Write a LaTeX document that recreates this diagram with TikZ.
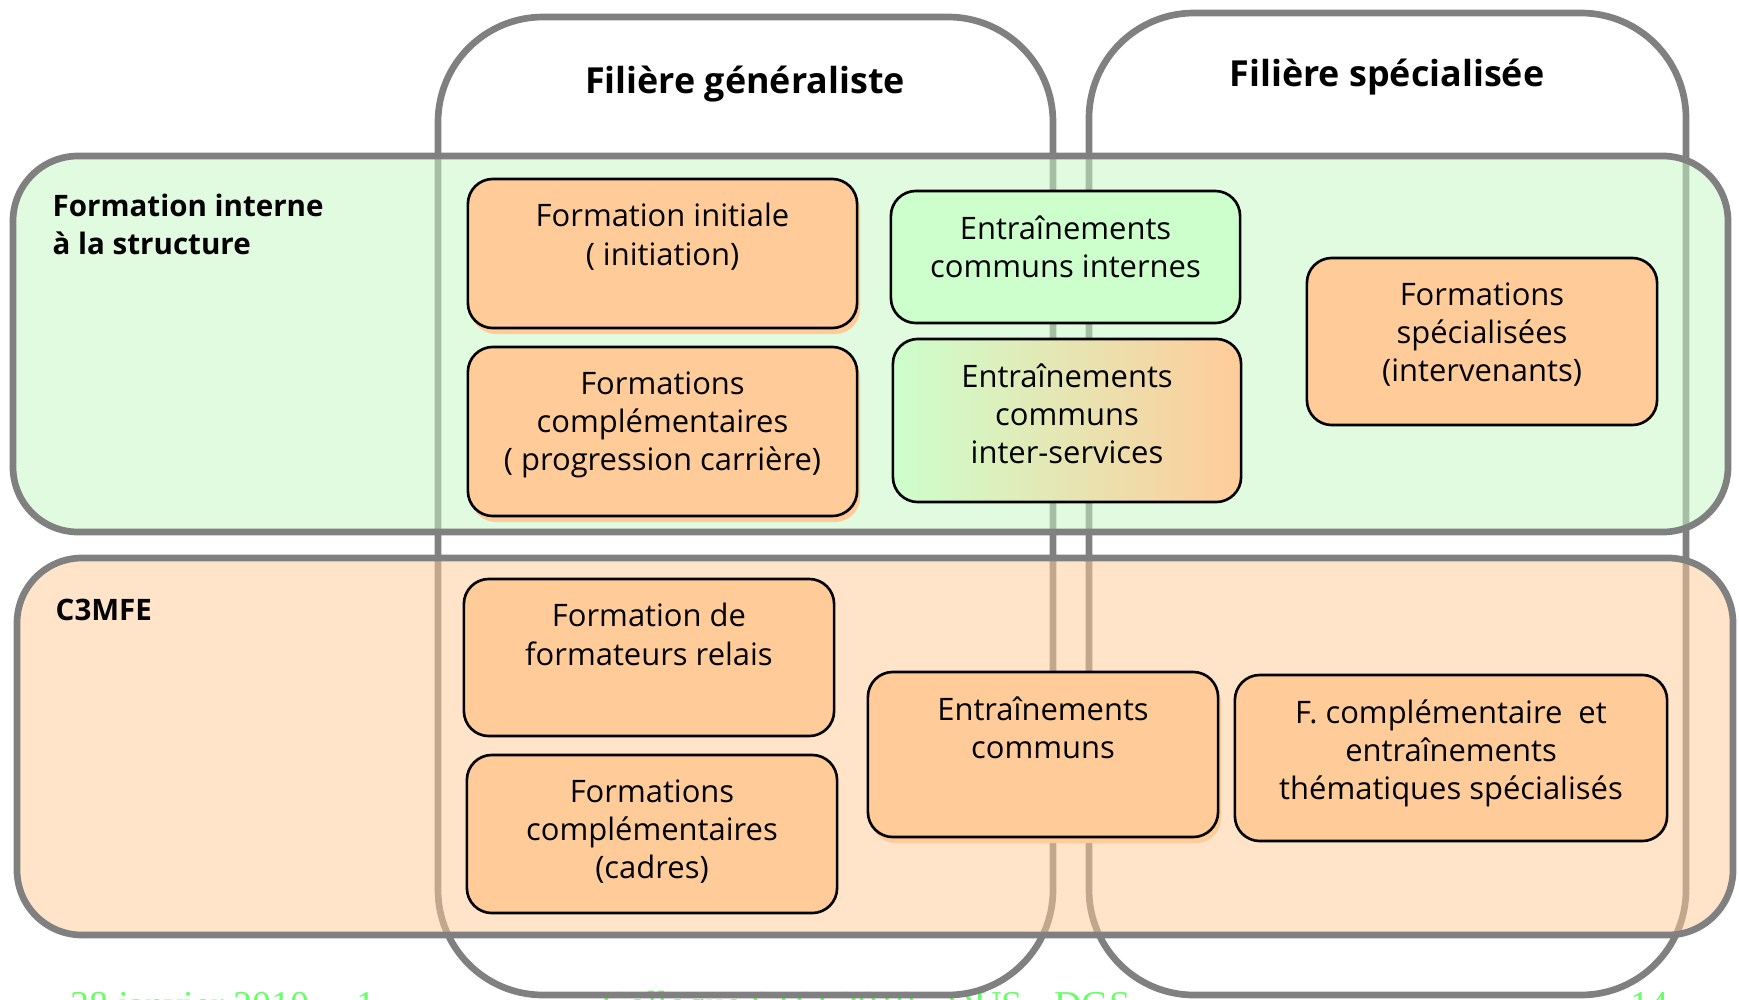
\documentclass[tikz,border=0pt]{standalone}
\usepackage{fontspec}
\setmainfont{Open Sans}
\newfontfamily\footfont{Liberation Serif}
\usetikzlibrary{positioning}
\usetikzlibrary{shadows}
\definecolor{lgray}{RGB}{128,128,128}
\definecolor{rowgreen}{RGB}{199,249,199}
\definecolor{rowpeach}{RGB}{255,204,153}
\definecolor{boxorange}{RGB}{255,204,153}
\definecolor{boxgreen}{RGB}{204,255,204}
\definecolor{footgreen}{RGB}{102,255,102}

\begin{document}
\begin{tikzpicture}[x=0.01cm,y=-0.01cm,
	filiere/.style={draw=lgray,line width=1.9pt,rounded corners=1.05cm},
	rowband/.style={draw=lgray,line width=1.9pt,rounded corners=0.65cm,fill opacity=0.52},
	obox/.style={draw=black,line width=0.75pt,rounded corners=0.25cm,fill=boxorange,inner sep=0pt},
	gbox/.style={obox,fill=boxgreen},
	shbox/.style={obox,drop shadow={fill=boxorange,opacity=1,shadow xshift=0.03cm,shadow yshift=-0.06cm}},
	btxt/.style={align=center,inner sep=0pt,font=\fontsize{8.8}{10.9}\selectfont},
	rtxt/.style={align=left,inner sep=0pt,anchor=north west,font=\fontsize{8.4}{10.9}\selectfont\bfseries},
	ttxt/.style={inner sep=0pt,anchor=base,font=\fontsize{10.2}{13}\selectfont\bfseries},
	foot/.style={inner sep=0pt,anchor=base west,text=footgreen,font=\footfont\fontsize{10.8}{13}\selectfont}]
	\clip(0,0)rectangle(1739,1000);
	\fill[white](0,0)rectangle(1739,1000);
	% bas de page
	\node[foot](fdate)at(70,1017){28 janvier 2010};
	\node[foot](fnum)at(356,1017){1};
	\node[foot](fcoll)at(602,1017){Colloque STSI 2010 - DUS - DGS};
	\node[foot](fpage)at(1630,1017){14};
	% filieres
	\draw[filiere](438,995)--(438,17)--(1053,17)--(1053,995)--cycle;
	\draw[filiere](1089,995)--(1089,13)--(1686,13)--(1686,995)--cycle;
	\node[ttxt](tgen)at(745,93){Filière généraliste};
	\node[ttxt](tspe)at(1387,87){Filière spécialisée};
	% bandes
	\draw[rowband,fill=rowgreen](13,156)rectangle(1728,532);
	\draw[rowband,fill=rowpeach](17,558)rectangle(1733,935);
	\node[rtxt](rint)at(52,193){Formation interne\\à la structure};
	\node[rtxt](rc3)at(55,598){C3MFE};
	% formation interne
	\node[shbox,minimum width=3.89cm,minimum height=1.49cm](finit)at(662.5,253.5){};
	\node[btxt,below=0.25cm of finit.north](finit-t){Formation initiale\\( initiation)};
	\node[shbox,minimum width=3.89cm,minimum height=1.69cm](fcomp)at(662.5,431.5){};
	\node[btxt,below=0.25cm of fcomp.north](fcomp-t){Formations\\complémentaires\\( progression carrière)};
	\node[gbox,minimum width=3.49cm,minimum height=1.32cm](eint)at(1065.5,257){};
	\node[btxt,below=0.25cm of eint.north](eint-t){Entraînements\\communs internes};
	\node[obox,left color=boxgreen,right color=boxorange,middle color=boxgreen!50!boxorange,minimum width=3.48cm,minimum height=1.63cm](eis)at(1067,420.5){};
	\node[btxt,below=0.25cm of eis.north](eis-t){Entraînements\\communs\\inter-services};
	\node[obox,minimum width=3.5cm,minimum height=1.67cm](fspe)at(1482,341.5){};
	\node[btxt,below=0.25cm of fspe.north](fspe-t){Formations\\spécialisées\\(intervenants)};
	% C3MFE
	\node[obox,minimum width=3.7cm,minimum height=1.57cm](frel)at(649,657.5){};
	\node[btxt,below=0.25cm of frel.north](frel-t){Formation de\\formateurs relais};
	\node[obox,minimum width=3.7cm,minimum height=1.58cm](fcad)at(652,834){};
	\node[btxt,below=0.25cm of fcad.north](fcad-t){Formations\\complémentaires\\(cadres)};
	\node[shbox,minimum width=3.5cm,minimum height=1.65cm](ecom)at(1043,754.5){};
	\node[btxt,below=0.25cm of ecom.north](ecom-t){Entraînements\\communs};
	\node[obox,minimum width=4.32cm,minimum height=1.66cm](fthem)at(1451,758){};
	\node[btxt,below=0.25cm of fthem.north](fthem-t){F. complémentaire\ \ et\\entraînements\\thématiques spécialisés};
\end{tikzpicture}
\end{document}
